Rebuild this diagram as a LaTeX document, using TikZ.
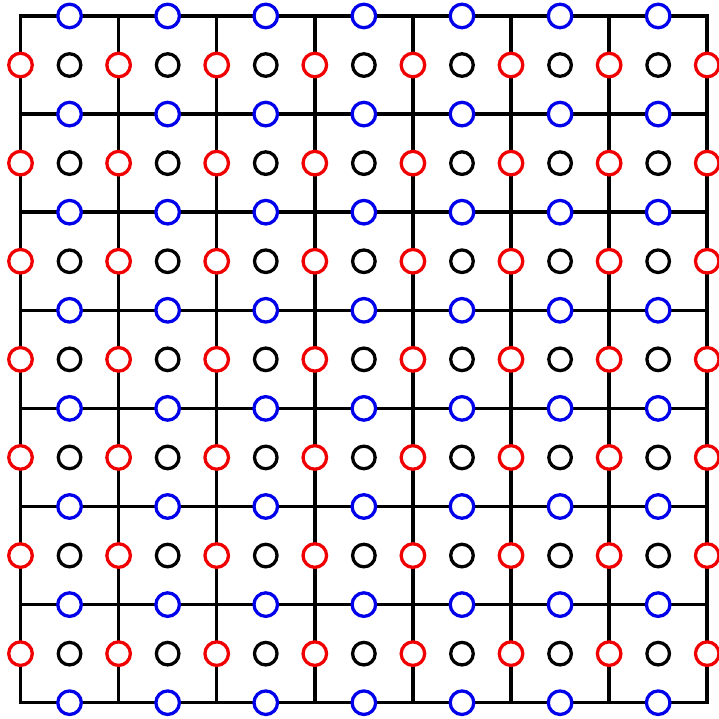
\documentclass[tikz,border=0pt]{standalone}
\usepackage{tikz}
\usetikzlibrary{positioning}
\definecolor{ured}{RGB}{240,0,0}
\definecolor{vblue}{RGB}{0,0,235}

\begin{document}
\begin{tikzpicture}[x=1cm,y=1cm,font=\small,
    gridline/.style={line width=1pt},
    pnode/.style={circle,draw=black,fill=white,line width=0.95pt,
      minimum size=0.23cm,inner sep=0pt},
    unode/.style={pnode,draw=ured,minimum size=0.24cm},
    vnode/.style={pnode,draw=vblue,minimum size=0.24cm}]
  \useasboundingbox (-0.209,-0.166) rectangle (7.117,7.163);
  \draw[gridline] (0,0) grid (7,7);
  \draw[gridline] (0,0) rectangle (7,7);
  % cell centres
  \foreach \i in {0,...,6}
    \foreach \j in {0,...,6}
      \node[pnode] (p-\i-\j) at (\i+0.5,\j+0.5) {};
  % vertical faces
  \foreach \i in {0,...,7}
    \foreach \j in {0,...,6}
      \node[unode] (u-\i-\j) at (\i,\j+0.5) {};
  % horizontal faces
  \foreach \i in {0,...,6}
    \foreach \j in {0,...,7}
      \node[vnode] (v-\i-\j) at (\i+0.5,\j) {};
\end{tikzpicture}
\end{document}
